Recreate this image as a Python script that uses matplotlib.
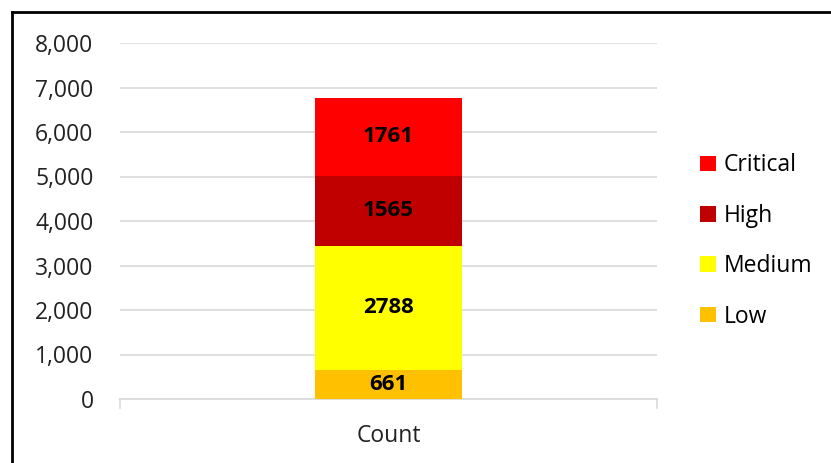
import matplotlib.pyplot as plt
from matplotlib.lines import Line2D
from matplotlib.patches import Patch

# Data
categories = ['Count']
levels = ['Low', 'Medium', 'High', 'Critical']
values = [661, 2788, 1565, 1761]
colors = ['#FFC000', '#FFFF00', '#C00000', '#FF0000']
y_ticks = [0, 1000, 2000, 3000, 4000, 5000, 6000, 7000, 8000]

plt.rcParams['font.family'] = ['Open Sans', 'DejaVu Sans']

fig = plt.figure(figsize=(8.31, 4.63), dpi=100)
ax = fig.add_axes([120 / 831, 1 - 399 / 463, 537 / 831, 356 / 463])

bottom = 0
for lvl, v, c in zip(levels, values, colors):
    bars = ax.bar(categories, [v], bottom=[bottom], width=0.2756, color=c, label=lvl, zorder=3)
    ax.text(0, bottom + v / 2, str(v), ha='center', va='center',
            fontsize=16, fontweight='bold', color='black', zorder=4)
    bottom += v

ax.set_xlim(-0.5, 0.5)
ax.set_ylim(0, 8000)
ax.set_yticks(y_ticks)
ax.set_yticklabels([f'{t:,}' for t in y_ticks])
ax.yaxis.grid(True, color='#d9d9d9', linewidth=1.2, zorder=0)
ax.tick_params(axis='y', length=0, pad=19, labelsize=16.5, labelcolor='#222222')
ax.tick_params(axis='x', length=0, pad=18, labelsize=16.5, labelcolor='#222222')
for s in ['top', 'right', 'left']:
    ax.spines[s].set_visible(False)
ax.spines['bottom'].set_color('#d9d9d9')
ax.spines['bottom'].set_linewidth(1.2)
# end tick marks on the category axis
for xe in (-0.5, 0.5):
    ax.plot([xe, xe], [0, -200], color='#d9d9d9', linewidth=1.2, clip_on=False)

handles = [Patch(facecolor=c, label=l) for l, c in zip(levels, colors)][::-1]
fig.legend(handles=handles, loc='center left', bbox_to_anchor=(689 / 831, 1 - 241 / 463),
           frameon=False, fontsize=16.5, handlelength=0.68, handleheight=0.68,
           handletextpad=0.35, labelspacing=1.15, borderpad=0)

# outer chart border (only top and left edges are visible in the crop)
fig.add_artist(Line2D([12 / 831, 12 / 831], [0, 1 - 12 / 463], color='black', linewidth=2))
fig.add_artist(Line2D([12 / 831, 1], [1 - 12 / 463, 1 - 12 / 463], color='black', linewidth=2))

fig.savefig('out.png', dpi=100)
